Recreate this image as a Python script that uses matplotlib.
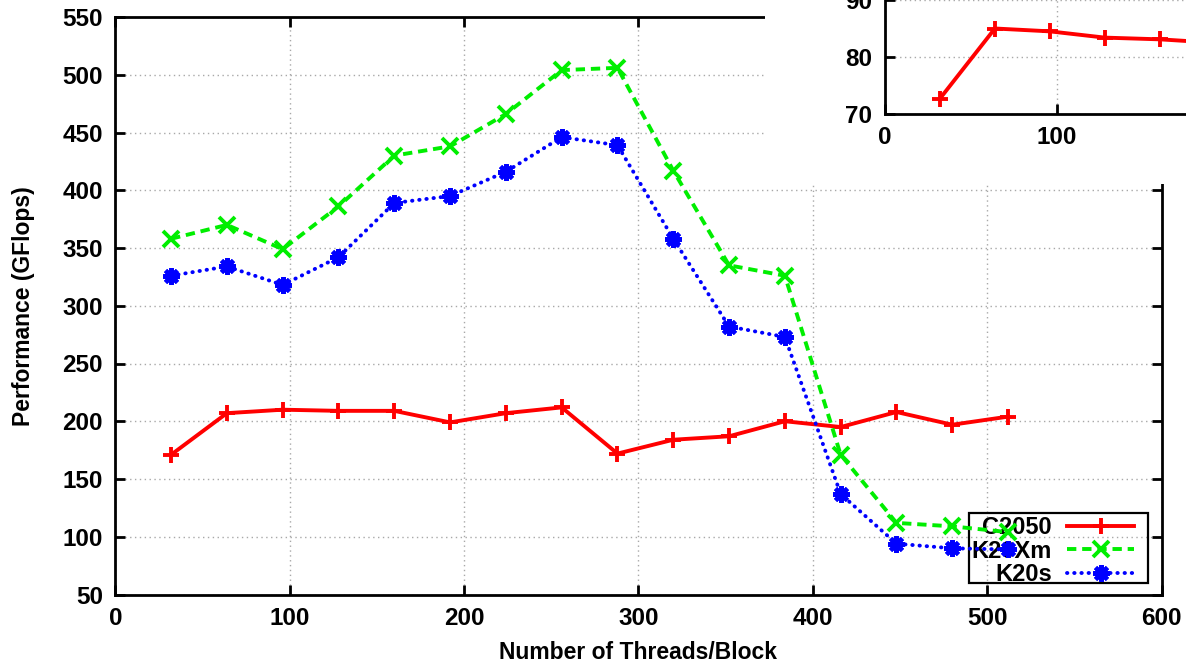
import matplotlib
matplotlib.use("Agg")
import matplotlib.pyplot as plt
from matplotlib.patches import Rectangle

plt.rcParams['font.family'] = ['Liberation Sans', 'DejaVu Sans']
plt.rcParams['font.weight'] = 'bold'

# Threads per block and measured performance (GFlops)
threads = [32, 64, 96, 128, 160, 192, 224, 256, 288, 320, 352, 384, 416, 448, 480, 512]
c2050 = [171, 207, 210, 209, 209, 199, 207, 212, 172, 184, 187, 200, 195, 208, 197, 204]
k20xm = [358, 370, 349, 386, 430, 438, 466, 504, 506, 417, 335, 326, 171, 112, 109, 104]
k20s = [326, 334, 318, 342, 389, 395, 416, 446, 439, 358, 282, 273, 137, 94, 90, 89]
series_names = ["C2050", "K20Xm", "K20s"]

# Close-up panel values
inset_threads = [32, 64, 96, 128, 160, 192]
inset_values = [72.7, 85.0, 84.5, 83.4, 83.1, 82.5]

x_ticks = [0, 100, 200, 300, 400, 500, 600]
y_ticks = [50, 100, 150, 200, 250, 300, 350, 400, 450, 500, 550]
inset_x_ticks = [0, 100]
inset_y_ticks = [70, 80, 90, 100]

W, H = 1186, 666
fig = plt.figure(figsize=(W / 100, H / 100), dpi=100)

TICK_FS = 17.5


def frac_box(x0, y0, x1, y1):
    """Pixel box (top-left origin) to figure fractions."""
    return [x0 / W, 1 - y1 / H, (x1 - x0) / W, (y1 - y0) / H]


def style_axes(ax):
    for s in ax.spines.values():
        s.set_linewidth(2.0)
        s.set_color('black')
    ax.tick_params(direction='in', length=7, width=2, top=True, right=True,
                   labelsize=TICK_FS, pad=9)
    ax.grid(True, color='#a8a8a8', linestyle=(0, (1, 2.5)), linewidth=1.0)
    ax.set_axisbelow(True)
    for lab in ax.get_xticklabels() + ax.get_yticklabels():
        lab.set_fontweight('bold')


red_style = dict(color='#ff0000', lw=2.8, marker='+', ms=12, mew=2.8)

main_box = (115.3, 17, 1161.5, 594.5)
ax = fig.add_axes(frac_box(*main_box), zorder=0)
ax.plot(threads, c2050, label=series_names[0], **red_style)
ax.plot(threads, k20xm, color='#00ee00', lw=2.8, linestyle=(0, (2.4, 1.5)),
        marker='x', ms=11, mew=2.8, label=series_names[1])
ax.plot(threads, k20s, color='#0000ff', lw=2.8, linestyle=(0, (0.1, 1.75)),
        dash_capstyle='round', marker=(8, 2, 0), ms=12, mew=3.0,
        label=series_names[2])
ax.set_xlim(0, 600)
ax.set_ylim(50, 550)
ax.set_xticks(x_ticks)
ax.set_yticks(y_ticks)
style_axes(ax)
ax.set_xlabel("Number of Threads/Block", fontsize=16.5, fontweight='bold',
              labelpad=8)
ax.set_ylabel("Performance (GFlops)", fontsize=16.5, fontweight='bold',
              labelpad=20)

# Key: right-aligned labels with samples, inside a plain rectangular box
ax_w = main_box[2] - main_box[0]
ax_h = main_box[3] - main_box[1]


def ax_x(px):
    return (px - main_box[0]) / ax_w


def ax_y(py):
    return (main_box[3] - py) / ax_h


leg = ax.legend(loc='lower right', bbox_to_anchor=(ax_x(1134), ax_y(586)),
                borderaxespad=0, markerfirst=False, frameon=False,
                handlelength=2.83, handletextpad=0.64, labelspacing=0.02,
                borderpad=0.0, prop={'weight': 'bold', 'size': 17})
leg.set_zorder(1.5)
ax.add_patch(Rectangle((ax_x(969), ax_y(583)), ax_x(1148) - ax_x(969),
                       ax_y(513) - ax_y(583), transform=ax.transAxes,
                       facecolor='none', edgecolor='black', lw=1.6,
                       zorder=1.5, clip_on=False))

# White backdrop behind the close-up panel
fig.add_artist(Rectangle((765 / W, 1 - 184 / H), 1 - 765 / W, 184 / H,
                         transform=fig.transFigure, facecolor='white',
                         edgecolor='none', zorder=1))

# Close-up panel (extends past the figure edge)
x_scale = 171.7 / 100
y_scale = 5.7
ins_left, ins_bottom = 885, 114
ins = fig.add_axes(frac_box(ins_left, ins_bottom - 30 * y_scale,
                            ins_left + 200 * x_scale, ins_bottom), zorder=2)
ins.plot(inset_threads, inset_values, **red_style)
ins.set_xlim(0, 200)
ins.set_ylim(70, 100)
ins.set_xticks(inset_x_ticks)
ins.set_yticks(inset_y_ticks)
style_axes(ins)

fig.savefig("out.png", dpi=100)
